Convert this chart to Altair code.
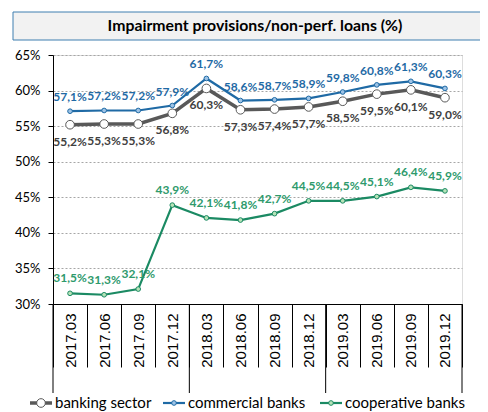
import altair as alt
import pandas as pd

dates = ["2017.03", "2017.06", "2017.09", "2017.12",
         "2018.03", "2018.06", "2018.09", "2018.12",
         "2019.03", "2019.06", "2019.09", "2019.12"]
banking = [55.2, 55.3, 55.3, 56.8, 60.3, 57.3, 57.4, 57.7, 58.5, 59.5, 60.1, 59.0]
commercial = [57.1, 57.2, 57.2, 57.9, 61.7, 58.6, 58.7, 58.9, 59.8, 60.8, 61.3, 60.3]
cooperative = [31.5, 31.3, 32.1, 43.9, 42.1, 41.8, 42.7, 44.5, 44.5, 45.1, 46.4, 45.9]
series_names = ["banking sector", "commercial banks", "cooperative banks"]
year_starts = ["2017.03", "2018.03", "2019.03"]
y_ticks = [30, 35, 40, 45, 50, 55, 60, 65]
title_text = "Impairment provisions/non-perf. loans (%)"


def fmt(v):
    return f"{v:.1f}%".replace(".", ",")


W, H = 409, 249

styles = {
    "banking sector": dict(line="#595959", width=3.5, fill="white", stroke="#595959",
                           size=75, label="#404040", dy=17),
    "commercial banks": dict(line="#1f6aa5", width=2.2, fill="#9dc3e6", stroke="#1f6aa5",
                             size=22, label="#1f6aa5", dy=-14),
    "cooperative banks": dict(line="#1b8a63", width=2.2, fill="#b6e3b8", stroke="#1b8a63",
                              size=22, label="#2e9a6c", dy=-15),
}

x_axis = alt.Axis(title=None, labelAngle=270, labelFont="Liberation Sans", labelFontSize=15,
                  labelColor="#000000", tickBand="extent", tickSize=63, tickColor="#000000",
                  domainColor="#000000", labelPadding=9 - 63, labelAlign="right",
                  labelBaseline="middle", grid=False)
x_scale = alt.Scale(type="band", paddingInner=0, paddingOuter=0)


def xenc(band=0.5):
    return alt.X("date:N", sort=dates, scale=x_scale, axis=x_axis, bandPosition=band)


y_enc = alt.Y("value:Q", scale=alt.Scale(domain=[30, 65], nice=False, zero=False),
              axis=alt.Axis(title=None, values=y_ticks, labelExpr="datum.value + '%'",
                            tickSize=5, tickColor="#000000", domainColor="#000000",
                            labelFont="Lato", labelFontSize=13, labelColor="#000000",
                            labelPadding=8, grid=True, gridDash=[2, 2], gridColor="#a6a6a6"))

layers = []

# year boundary long ticks
yb = pd.DataFrame({"date": year_starts})
layers.append(alt.Chart(yb).mark_rule(color="#000000", strokeWidth=1).encode(
    x=xenc(0), y=alt.value(H), y2=alt.value(H + 89)))
layers.append(alt.Chart(pd.DataFrame({"date": [dates[-1]]})).mark_rule(
    color="#000000", strokeWidth=1).encode(x=xenc(1), y=alt.value(H), y2=alt.value(H + 89)))

for name, vals in zip(series_names, [banking, commercial, cooperative]):
    s = styles[name]
    d = pd.DataFrame({"date": dates, "value": vals, "label": [fmt(v) for v in vals]})
    base = alt.Chart(d)
    layers.append(base.mark_line(color=s["line"], strokeWidth=s["width"]).encode(
        x=xenc(), y=y_enc))
for name, vals in zip(series_names, [banking, commercial, cooperative]):
    s = styles[name]
    d = pd.DataFrame({"date": dates, "value": vals, "label": [fmt(v) for v in vals]})
    base = alt.Chart(d)
    layers.append(base.mark_point(filled=True, fill=s["fill"], stroke=s["stroke"],
                                  strokeWidth=1, size=s["size"], opacity=1).encode(
        x=xenc(), y=y_enc))
    layers.append(base.mark_text(font="Lato", fontSize=12, fontWeight="bold",
                                 color=s["label"], dy=s["dy"]).encode(
        x=xenc(), y=y_enc, text="label:N"))

# title box
tdf = pd.DataFrame({"t": [title_text]})
layers.append(alt.Chart(tdf).mark_rect(fill="#f2f2f2", stroke="#3f7fb0", strokeWidth=1).encode(
    x=alt.value(-40), x2=alt.value(W + 60), y=alt.value(-43), y2=alt.value(-15)))
layers.append(alt.Chart(tdf).mark_text(font="Lato", fontSize=15.8, fontWeight="bold",
                                       color="#000000").encode(
    x=alt.value(202), y=alt.value(-29), text="t:N"))

# manual legend
leg_x = {"banking sector": -23, "commercial banks": 110, "cooperative banks": 267}
leg_y = 348
for name in series_names:
    s = styles[name]
    x0 = leg_x[name]
    ldf = pd.DataFrame({"name": [name]})
    lb = alt.Chart(ldf)
    layers.append(lb.mark_rule(color=s["line"], strokeWidth=s["width"]).encode(
        x=alt.value(x0), x2=alt.value(x0 + 22), y=alt.value(leg_y)))
    layers.append(lb.mark_point(filled=True, fill=s["fill"], stroke=s["stroke"], strokeWidth=1,
                                size=s["size"], opacity=1).encode(
        x=alt.value(x0 + 11), y=alt.value(leg_y)))
    layers.append(lb.mark_text(font="Lato", fontSize=15, color="#000000", align="left").encode(
        x=alt.value(x0 + 25), y=alt.value(leg_y), text="name:N"))

chart = alt.layer(*layers).properties(
    width=W, height=H,
    autosize=alt.AutoSizeParams(type="none"),
    padding={"left": 45, "top": 47, "right": 18, "bottom": 115},
).configure_view(stroke=None).configure(background="white")

chart.save("out.html", embed_options={"renderer": "svg", "actions": False})
